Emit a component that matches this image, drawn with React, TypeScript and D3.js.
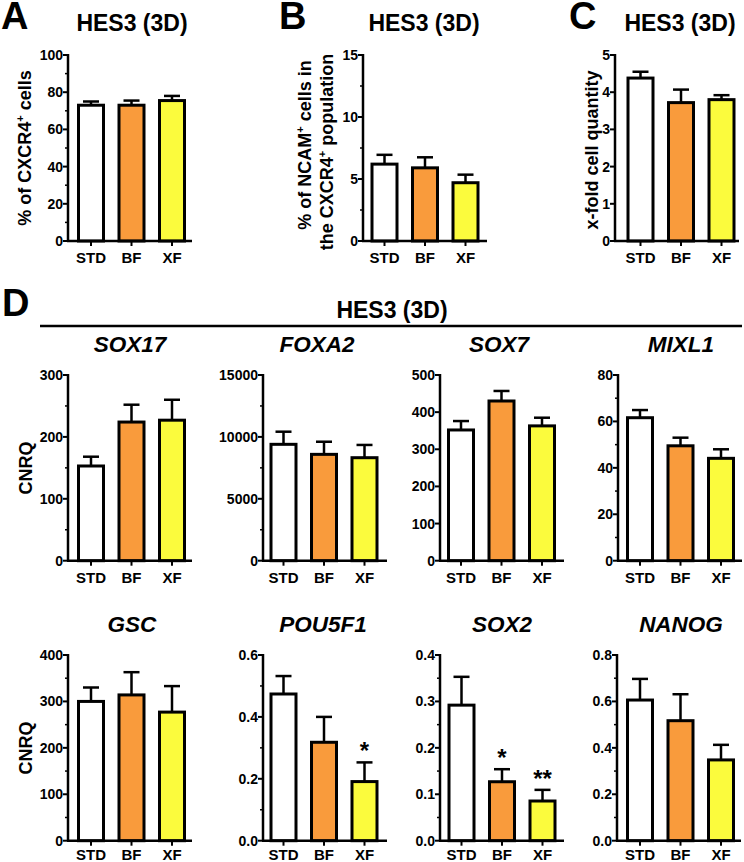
import React from "react";
import * as d3 from "d3";

// ---------- DATA ----------
const categories = ["STD", "BF", "XF"];

const cxcr4Mean = [73, 73, 75.5];
const cxcr4Err = [2, 2.5, 2.5];
const ncamMean = [6.2, 5.9, 4.7];
const ncamErr = [0.75, 0.85, 0.65];
const foldMean = [4.38, 3.72, 3.8];
const foldErr = [0.17, 0.35, 0.12];

const sox17Mean = [153, 224, 227];
const sox17Err = [15, 28, 33];
const foxa2Mean = [9400, 8590, 8320];
const foxa2Err = [1020, 1020, 1030];
const sox7Mean = [352, 430, 363];
const sox7Err = [24, 27, 22];
const mixl1Mean = [61.6, 49.5, 44.1];
const mixl1Err = [3.3, 3.5, 3.9];

const gscMean = [300, 314, 277];
const gscErr = [30, 49, 56];
const pou5f1Mean = [0.474, 0.318, 0.191];
const pou5f1Err = [0.058, 0.082, 0.062];
const sox2Mean = [0.292, 0.127, 0.0855];
const sox2Err = [0.061, 0.027, 0.024];
const nanogMean = [0.606, 0.517, 0.348];
const nanogErr = [0.091, 0.114, 0.065];

const pou5f1Stars = ["", "", "*"];
const sox2Stars = ["", "*", "**"];
const noStars = ["", "", ""];

const ticksA = [0, 20, 40, 60, 80, 100];
const minorA = [10, 30, 50, 70, 90];
const ticksB = [0, 5, 10, 15];
const minorB = [2.5, 7.5, 12.5];
const ticksC = [0, 1, 2, 3, 4, 5];
const ticksSox17 = [0, 100, 200, 300];
const minorSox17 = [50, 150, 250];
const ticksFoxa2 = [0, 5000, 10000, 15000];
const minorFoxa2 = [2500, 7500, 12500];
const ticksSox7 = [0, 100, 200, 300, 400, 500];
const ticksMixl1 = [0, 20, 40, 60, 80];
const minorMixl1 = [10, 30, 50, 70];
const ticksGsc = [0, 100, 200, 300, 400];
const minorGsc = [50, 150, 250, 350];
const ticksPou = [0, 0.2, 0.4, 0.6];
const minorPou = [0.1, 0.3, 0.5];
const ticksSox2 = [0, 0.1, 0.2, 0.3, 0.4];
const minorSox2 = [0.05, 0.15, 0.25, 0.35];
const ticksNanog = [0, 0.2, 0.4, 0.6, 0.8];
const minorNanog = [0.1, 0.3, 0.5, 0.7];

const studyTitle = "HES3 (3D)";
const geneNames = ["SOX17", "FOXA2", "SOX7", "MIXL1", "GSC", "POU5F1", "SOX2", "NANOG"];

// ---------- STYLE ----------
const FONT = "'Liberation Sans', Arial, Helvetica, sans-serif";
const barColors = ["#ffffff", "#f99b3c", "#fbfb3d"];

type Spec = {
  yMax: number;
  ticks: number[];
  minor: number[];
  fmt: (v: number) => string;
  means: number[];
  errs: number[];
  stars: string[];
  axisX: number;
  c0: number;
  top: number;
  zero: number;
  labelDy: number;
};

const intFmt = (v: number) => d3.format("d")(v);
const f1 = (v: number) => d3.format(".1f")(v);

function Panel({ s }: { s: Spec }) {
  const y = d3.scaleLinear().domain([0, s.yMax]).range([s.zero, s.top]);
  const x = d3
    .scalePoint<string>()
    .domain(categories)
    .range([s.axisX + s.c0, s.axisX + s.c0 + 81]);
  const bw = 25;
  return (
    <g>
      {categories.map((c, i) => {
        const cx = x(c)!;
        const yt = y(s.means[i]);
        const ye = y(s.means[i] + s.errs[i]);
        return (
          <g key={c}>
            <line x1={cx} x2={cx} y1={yt} y2={ye} stroke="#000" strokeWidth={2.5} />
            <line x1={cx - 8} x2={cx + 8} y1={ye} y2={ye} stroke="#000" strokeWidth={2.5} />
            <rect
              x={cx - bw / 2}
              y={yt}
              width={bw}
              height={s.zero - yt}
              fill={barColors[i]}
              stroke="#000"
              strokeWidth={3}
            />
            {s.stars[i] ? (
              <text
                x={cx}
                y={ye - 3}
                textAnchor="middle"
                fontFamily={FONT}
                fontWeight="bold"
                fontSize={24}
              >
                {s.stars[i]}
              </text>
            ) : null}
            <line x1={cx} x2={cx} y1={s.zero} y2={s.zero + 5} stroke="#000" strokeWidth={2} />
            <text
              x={cx}
              y={s.zero + s.labelDy}
              textAnchor="middle"
              fontFamily={FONT}
              fontWeight="bold"
              fontSize={15}
            >
              {c}
            </text>
          </g>
        );
      })}
      <line x1={s.axisX} x2={s.axisX} y1={s.top - 1} y2={s.zero} stroke="#000" strokeWidth={2.5} />
      <line x1={s.axisX - 1} x2={s.axisX + 124} y1={s.zero} y2={s.zero} stroke="#000" strokeWidth={2.5} />
      {s.ticks.map((t) => (
        <g key={"t" + t}>
          <line x1={s.axisX - 5} x2={s.axisX} y1={y(t)} y2={y(t)} stroke="#000" strokeWidth={2} />
          <text
            x={s.axisX - 5}
            y={y(t)}
            dy="0.36em"
            textAnchor="end"
            fontFamily={FONT}
            fontWeight="bold"
            fontSize={14}
          >
            {s.fmt(t)}
          </text>
        </g>
      ))}
      {s.minor.map((t) => (
        <line key={"m" + t} x1={s.axisX - 3} x2={s.axisX} y1={y(t)} y2={y(t)} stroke="#000" strokeWidth={1.5} />
      ))}
    </g>
  );
}

function VLabel({ x, y, children, size = 18 }: any) {
  return (
    <text
      transform={`translate(${x},${y}) rotate(-90)`}
      textAnchor="middle"
      fontFamily={FONT}
      fontWeight="bold"
      fontSize={size}
    >
      {children}
    </text>
  );
}

const Sup = () => (
  <tspan fontSize={11} dy={-7}>+</tspan>
);
const Down = () => <tspan dy={7}> </tspan>;

export default function App() {
  const topT = 55, topZ = 241;
  const r1T = 375, r1Z = 560.7;
  const r2T = 655, r2Z = 840.7;
  const panels: Spec[] = [
    { yMax: 100, ticks: ticksA, minor: minorA, fmt: intFmt, means: cxcr4Mean, errs: cxcr4Err, stars: noStars, axisX: 68, c0: 23, top: topT, zero: topZ, labelDy: 22 },
    { yMax: 15, ticks: ticksB, minor: minorB, fmt: intFmt, means: ncamMean, errs: ncamErr, stars: noStars, axisX: 363, c0: 21.5, top: topT, zero: topZ, labelDy: 22 },
    { yMax: 5, ticks: ticksC, minor: [], fmt: intFmt, means: foldMean, errs: foldErr, stars: noStars, axisX: 615, c0: 25.5, top: topT, zero: topZ, labelDy: 22 },
    { yMax: 300, ticks: ticksSox17, minor: minorSox17, fmt: intFmt, means: sox17Mean, errs: sox17Err, stars: noStars, axisX: 68, c0: 23, top: r1T, zero: r1Z, labelDy: 22 },
    { yMax: 15000, ticks: ticksFoxa2, minor: minorFoxa2, fmt: intFmt, means: foxa2Mean, errs: foxa2Err, stars: noStars, axisX: 263, c0: 20.5, top: r1T, zero: r1Z, labelDy: 22 },
    { yMax: 500, ticks: ticksSox7, minor: [], fmt: intFmt, means: sox7Mean, errs: sox7Err, stars: noStars, axisX: 440, c0: 21, top: r1T, zero: r1Z, labelDy: 22 },
    { yMax: 80, ticks: ticksMixl1, minor: minorMixl1, fmt: intFmt, means: mixl1Mean, errs: mixl1Err, stars: noStars, axisX: 618, c0: 22, top: r1T, zero: r1Z, labelDy: 22 },
    { yMax: 400, ticks: ticksGsc, minor: minorGsc, fmt: intFmt, means: gscMean, errs: gscErr, stars: noStars, axisX: 68, c0: 23, top: r2T, zero: r2Z, labelDy: 19.5 },
    { yMax: 0.6, ticks: ticksPou, minor: minorPou, fmt: f1, means: pou5f1Mean, errs: pou5f1Err, stars: pou5f1Stars, axisX: 263, c0: 20.5, top: r2T, zero: r2Z, labelDy: 19.5 },
    { yMax: 0.4, ticks: ticksSox2, minor: minorSox2, fmt: f1, means: sox2Mean, errs: sox2Err, stars: sox2Stars, axisX: 440, c0: 21.5, top: r2T, zero: r2Z, labelDy: 19.5 },
    { yMax: 0.8, ticks: ticksNanog, minor: minorNanog, fmt: f1, means: nanogMean, errs: nanogErr, stars: noStars, axisX: 617, c0: 23, top: r2T, zero: r2Z, labelDy: 19.5 },
  ];
  const geneX = [130, 317, 499, 681, 132, 323, 502, 681];
  const geneY = [352, 352, 352, 352, 632, 632, 632, 632];
  const letter = (t: string, x: number, yb: number) => (
    <text x={x} y={yb} fontFamily={FONT} fontWeight="bold" fontSize={38}>
      {t}
    </text>
  );
  const title = (x: number, yb: number) => (
    <text x={x} y={yb} textAnchor="middle" fontFamily={FONT} fontWeight="bold" fontSize={23}>
      {studyTitle}
    </text>
  );
  return (
    <svg
      width={744}
      height={862}
      style={{ position: "absolute", left: 0, top: 0, background: "#fff" }}
    >
      <rect width={744} height={862} fill="#fff" />
      {letter("A", 1, 29)}
      {letter("B", 279, 29)}
      {letter("C", 569, 29)}
      {letter("D", 2, 316)}
      {title(132, 31)}
      {title(424, 31)}
      {title(680, 31)}
      {title(392, 318)}
      <line x1={40} x2={742} y1={326} y2={326} stroke="#000" strokeWidth={2.5} />
      {geneNames.map((g, i) => (
        <text
          key={g}
          x={geneX[i]}
          y={geneY[i]}
          textAnchor="middle"
          fontFamily={FONT}
          fontWeight="bold"
          fontStyle="italic"
          fontSize={22.5}
        >
          {g}
        </text>
      ))}
      {panels.map((p, i) => (
        <Panel key={i} s={p} />
      ))}
      <VLabel x={31} y={148}>
        % of CXCR4<Sup />
        <Down />cells
      </VLabel>
      <VLabel x={311} y={145} size={18}>
        % of NCAM<Sup />
        <Down />cells in
      </VLabel>
      <VLabel x={333} y={152} size={18}>
        the CXCR4<Sup />
        <Down />population
      </VLabel>
      <VLabel x={598} y={150}>x-fold cell quantity</VLabel>
      <VLabel x={32} y={468}>CNRQ</VLabel>
      <VLabel x={32} y={748}>CNRQ</VLabel>
    </svg>
  );
}
